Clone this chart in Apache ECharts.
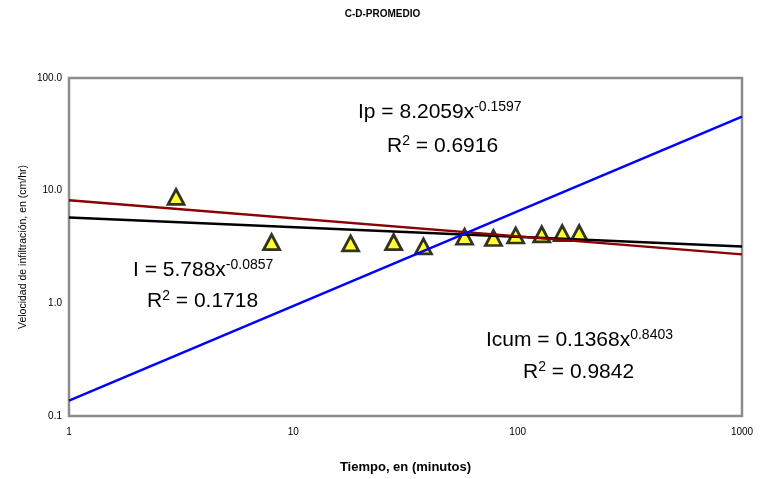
<!DOCTYPE html>
<html>
<head>
<meta charset="utf-8">
<script src="https://cdn.jsdelivr.net/npm/echarts@6/dist/echarts.min.js"></script>
<style>html,body{margin:0;padding:0;background:#fff;overflow:hidden}#c{width:765px;height:479px}</style>
</head>
<body>
<div id="c"></div>
<script>
// Observed data (time in minutes, infiltration rate in cm/hr)
const time = [3, 8, 18, 28, 38, 58, 78, 98, 128, 158, 188];
const rate = [8.8, 3.5, 3.4, 3.5, 3.2, 3.9, 3.8, 4.0, 4.1, 4.2, 4.2];
// Trend line end points (at x = 1 and x = 1000)
const trendX = [1, 1000];
const ipTrend = [8.21, 2.72];
const iTrend = [5.79, 3.20];
const icumTrend = [0.137, 45.4];
// Axis tick values
const xTicks = [1, 10, 100, 1000];
const yTicks = [0.1, 1, 10, 100];

const FONT = "'Liberation Sans', Arial, sans-serif";
const pairs = (xs, ys) => xs.map((x, i) => [x, ys[i]]);

const chart = echarts.init(document.getElementById('c'), null, {renderer: 'canvas'});

function eqText(left, top, main, sup, tail) {
  return {
    type: 'text', left: left, top: top, z: 100,
    style: {
      text: '{m|' + main + '}{s|' + sup + '}' + (tail ? '{m|' + tail + '}' : ''),
      rich: {
        m: {fontSize: 21, fontFamily: FONT, fill: '#000', lineHeight: 24},
        s: {fontSize: 14, fontFamily: FONT, fill: '#000', verticalAlign: 'top', lineHeight: 14}
      }
    }
  };
}

chart.setOption({
  animation: false,
  backgroundColor: '#fff',
  title: {
    text: 'C-D-PROMEDIO', left: 'center', top: 4,
    textStyle: {fontSize: 10, fontWeight: 'bold', fontFamily: FONT, color: '#000'}
  },
  grid: {left: 69, top: 78, width: 673, height: 338, show: true, borderColor: '#8c8c8c', borderWidth: 2.5, backgroundColor: '#fff'},
  xAxis: {
    type: 'log', logBase: 10, min: xTicks[0], max: xTicks[xTicks.length - 1],
    name: 'Tiempo, en (minutos)', nameLocation: 'middle', nameGap: 45,
    nameTextStyle: {fontSize: 13, fontWeight: 'bold', fontFamily: FONT, color: '#000'},
    axisLine: {show: false}, axisTick: {show: false}, splitLine: {show: false},
    axisLabel: {fontSize: 10, fontFamily: FONT, color: '#000', margin: 11, formatter: v => String(v)}
  },
  yAxis: {
    type: 'log', logBase: 10, min: yTicks[0], max: yTicks[yTicks.length - 1],
    name: 'Velocidad de infiltración, en (cm/hr)', nameLocation: 'middle', nameGap: 40, nameRotate: 90,
    nameMoveOverlap: false,
    nameTextStyle: {fontSize: 10.5, fontFamily: FONT, color: '#000'},
    axisLine: {show: false}, axisTick: {show: false}, splitLine: {show: false},
    axisLabel: {fontSize: 10, fontFamily: FONT, color: '#000', margin: 7, formatter: v => Number(v).toFixed(1)}
  },
  series: [
    {
      type: 'scatter', data: pairs(time, rate), symbol: 'triangle', symbolSize: [16, 15],
      itemStyle: {color: '#ffff00', borderColor: '#000', borderWidth: 2.8}, z: 2
    },
    {
      type: 'line', data: pairs(trendX, iTrend), showSymbol: false, symbol: 'none',
      lineStyle: {color: '#000000', width: 2.5}, z: 3
    },
    {
      type: 'line', data: pairs(trendX, ipTrend), showSymbol: false, symbol: 'none',
      lineStyle: {color: '#8b0000', width: 2.5}, z: 3
    },
    {
      type: 'line', data: pairs(trendX, icumTrend), showSymbol: false, symbol: 'none',
      lineStyle: {color: '#0000ff', width: 2.5}, z: 3
    }
  ],
  graphic: [
    eqText(358, 100, 'Ip = 8.2059x', '-0.1597'),
    eqText(387, 134, 'R', '2', ' = 0.6916'),
    eqText(133, 258, 'I = 5.788x', '-0.0857'),
    eqText(147, 289, 'R', '2', ' = 0.1718'),
    eqText(486, 328, 'Icum = 0.1368x', '0.8403'),
    eqText(523, 360, 'R', '2', ' = 0.9842')
  ]
});
</script>
</body>
</html>
